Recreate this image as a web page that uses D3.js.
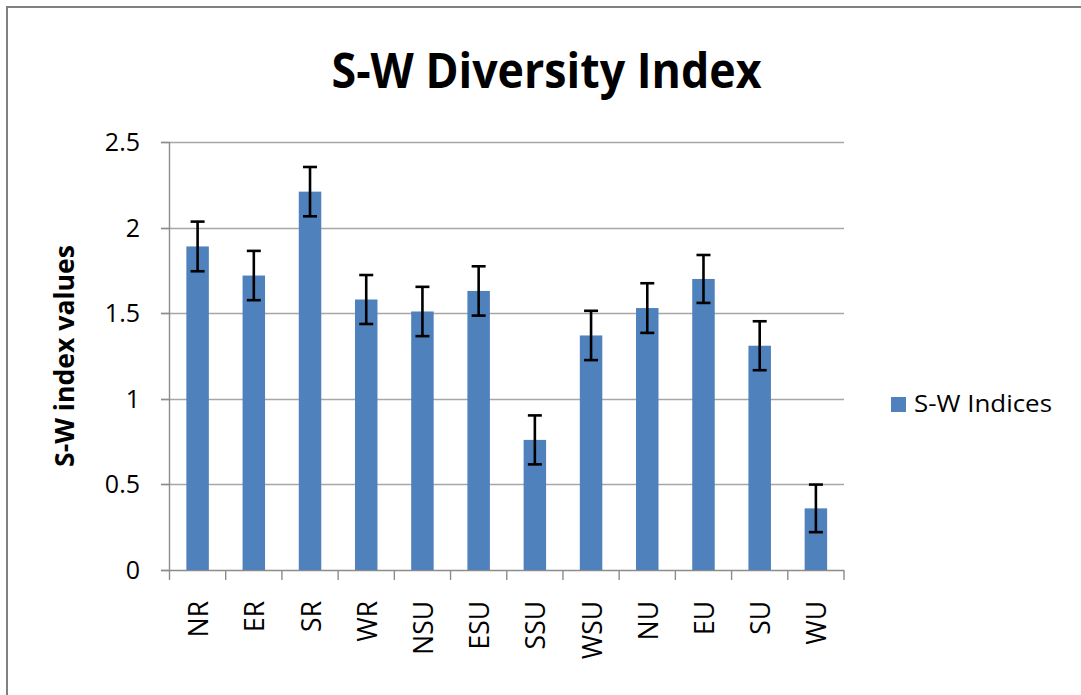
<!DOCTYPE html>
<html>
<head>
<meta charset="utf-8">
<script src="https://cdn.jsdelivr.net/npm/d3@7"></script>
<style>
  html, body { margin: 0; padding: 0; background: #fff; }
  svg { display: block; }
  text { font-family: "Open Sans", "DejaVu Sans", sans-serif; fill: #000; }
</style>
</head>
<body>
<svg id="chart" width="1081" height="695"></svg>
<script>
// ---- data ----
const categories = ["NR", "ER", "SR", "WR", "NSU", "ESU", "SSU", "WSU", "NU", "EU", "SU", "WU"];
const values = [1.89, 1.72, 2.21, 1.58, 1.51, 1.63, 0.76, 1.37, 1.53, 1.70, 1.31, 0.36];
const errors = [0.145, 0.144, 0.144, 0.143, 0.144, 0.144, 0.143, 0.144, 0.145, 0.14, 0.143, 0.139];
const yTicks = [0, 0.5, 1, 1.5, 2, 2.5];
const yTickLabels = ["0", "0.5", "1", "1.5", "2", "2.5"];
const seriesName = "S-W Indices";
const chartTitle = "S-W Diversity Index";
const yAxisTitle = "S-W index values";

// ---- layout ----
const svg = d3.select("#chart");
const plotLeft = 169.5, plotRight = 844, plotTop = 142, plotBottom = 570;
const barColor = "#4f81bd";

// outer frame
svg.append("path")
  .attr("d", `M7,695 L7,7 L1081,7`)
  .attr("fill", "none").attr("stroke", "#808080").attr("stroke-width", 2);

const y = d3.scaleLinear().domain([0, 2.5]).range([plotBottom, plotTop]);
const x = d3.scaleBand().domain(categories).range([plotLeft, plotRight])
  .paddingInner(0.6).paddingOuter(0.3);
const xEdge = d3.scaleBand().domain(categories).range([plotLeft, plotRight]).padding(0);

// gridlines
svg.append("g").selectAll("line").data(yTicks.filter(d => d > 0)).join("line")
  .attr("x1", 161).attr("x2", plotRight)
  .attr("y1", d => Math.round(y(d)) + 0.5).attr("y2", d => Math.round(y(d)) + 0.5)
  .attr("stroke", "#a6a6a6").attr("stroke-width", 1.4);

// y axis line + ticks
svg.append("line").attr("x1", plotLeft).attr("x2", plotLeft)
  .attr("y1", plotTop).attr("y2", plotBottom)
  .attr("stroke", "#8c8c8c").attr("stroke-width", 1.4);
svg.append("g").selectAll("line").data(yTicks).join("line")
  .attr("x1", 161).attr("x2", plotLeft)
  .attr("y1", d => Math.round(y(d)) + 0.5).attr("y2", d => Math.round(y(d)) + 0.5)
  .attr("stroke", "#8c8c8c").attr("stroke-width", 1.4);

// x axis line + boundary ticks
svg.append("line").attr("x1", 161).attr("x2", plotRight)
  .attr("y1", Math.round(y(0)) + 0.5).attr("y2", Math.round(y(0)) + 0.5)
  .attr("stroke", "#8c8c8c").attr("stroke-width", 1.4);
const edges = categories.map(c => xEdge(c)).concat([plotRight]);
svg.append("g").selectAll("line").data(edges).join("line")
  .attr("x1", d => d).attr("x2", d => d)
  .attr("y1", y(0)).attr("y2", y(0) + 10)
  .attr("stroke", "#8c8c8c").attr("stroke-width", 1.4);

// y tick labels
svg.append("g").selectAll("text").data(yTicks).join("text")
  .attr("x", 140).attr("y", d => y(d))
  .attr("dy", "0.36em")
  .attr("text-anchor", "end")
  .attr("font-size", 25)
  .attr("fill", "#1a1a1a")
  .text((d, i) => yTickLabels[i]);

// bars
svg.append("g").selectAll("rect").data(values).join("rect")
  .attr("x", (d, i) => x(categories[i]))
  .attr("width", x.bandwidth())
  .attr("y", d => y(d))
  .attr("height", d => y(0) - y(d))
  .attr("fill", barColor);

// error bars
const eg = svg.append("g").attr("stroke", "#000").attr("stroke-width", 2.6);
values.forEach((v, i) => {
  const cx = x(categories[i]) + x.bandwidth() / 2;
  const top = y(v + errors[i]), bot = y(v - errors[i]);
  eg.append("line").attr("x1", cx).attr("x2", cx).attr("y1", top).attr("y2", bot);
  eg.append("line").attr("x1", cx - 7).attr("x2", cx + 7).attr("y1", top).attr("y2", top);
  eg.append("line").attr("x1", cx - 7).attr("x2", cx + 7).attr("y1", bot).attr("y2", bot);
});

// category labels (rotated)
svg.append("g").selectAll("text").data(categories).join("text")
  .attr("transform", d => `translate(${x(d) + x.bandwidth() / 2 + 1},601) rotate(-90)`)
  .attr("text-anchor", "end")
  .attr("dy", "0.36em")
  .attr("font-size", 26.5)
  .attr("fill", "#1a1a1a")
  .text(d => d);

// y axis title
svg.append("text")
  .attr("transform", `translate(74,${(plotTop + plotBottom) / 2}) rotate(-90)`)
  .attr("text-anchor", "middle")
  .attr("font-size", 26)
  .attr("font-weight", "bold")
  .attr("textLength", 222)
  .attr("lengthAdjust", "spacingAndGlyphs")
  .text(yAxisTitle);

// chart title
svg.append("text")
  .attr("x", 331.5).attr("y", 88)
  .attr("font-size", 48)
  .attr("font-weight", "bold")
  .attr("textLength", 430)
  .attr("lengthAdjust", "spacingAndGlyphs")
  .text(chartTitle);

// legend
svg.append("rect").attr("x", 891).attr("y", 397).attr("width", 15).attr("height", 15).attr("fill", barColor);
svg.append("text")
  .attr("x", 914).attr("y", 412)
  .attr("font-size", 23.5)
  .attr("fill", "#1a1a1a")
  .attr("textLength", 138)
  .attr("lengthAdjust", "spacingAndGlyphs")
  .text(seriesName);
</script>
</body>
</html>
